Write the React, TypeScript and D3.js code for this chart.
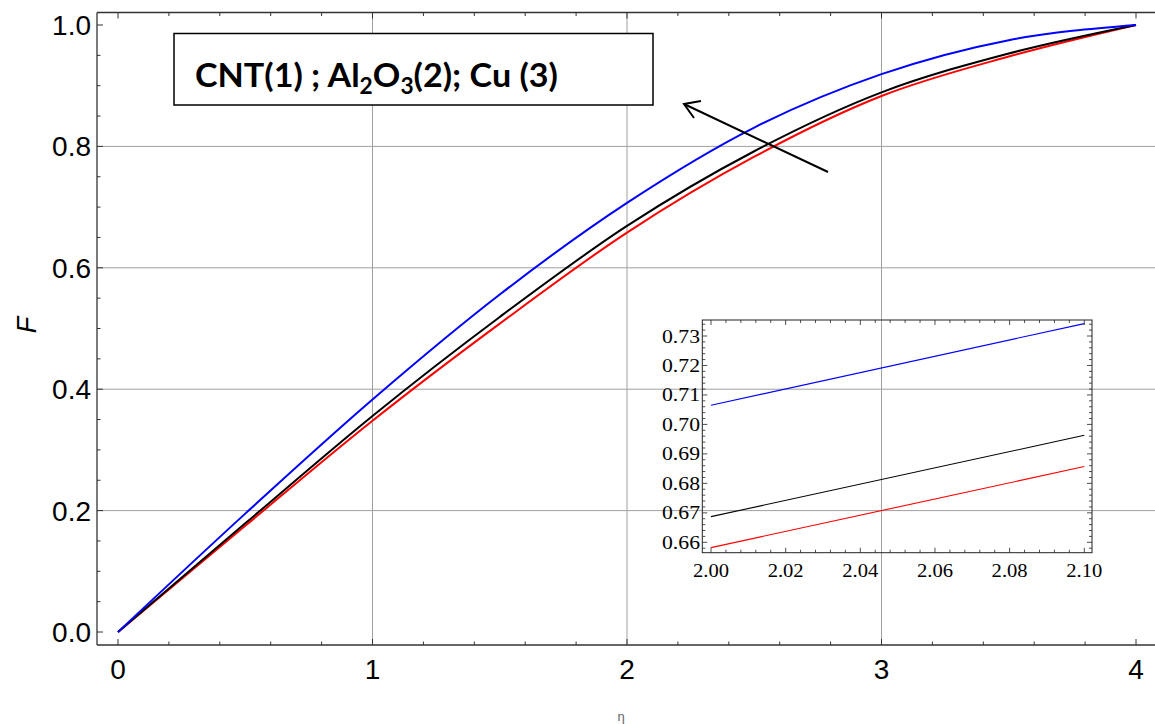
import React from 'react';
import * as d3 from 'd3';

// Main plot data
const ETA = [0, 0.5, 1, 1.5, 2, 2.5, 3, 3.5, 4];
const F_CNT = [0, 0.195, 0.383, 0.556, 0.707, 0.831, 0.919, 0.975, 1.0]; // blue
const F_AL2O3 = [0, 0.179, 0.356, 0.519, 0.669, 0.792, 0.889, 0.953, 1.0]; // black
const F_CU = [0, 0.175, 0.348, 0.508, 0.658, 0.783, 0.883, 0.948, 1.0]; // red

const X_TICKS = [0, 1, 2, 3, 4];
const Y_TICKS = [0, 0.2, 0.4, 0.6, 0.8, 1.0];

// Inset data
const INSET_ETA = [2.0, 2.1];
const INSET_CNT = [0.7065, 0.7342];
const INSET_AL2O3 = [0.6687, 0.6963];
const INSET_CU = [0.6582, 0.6857];
const INSET_X_TICKS = [2.0, 2.02, 2.04, 2.06, 2.08, 2.1];
const INSET_Y_TICKS = [0.66, 0.67, 0.68, 0.69, 0.70, 0.71, 0.72, 0.73];

const SERIES = [
  { vals: F_CU, inset: INSET_CU, color: '#ff0000' },
  { vals: F_AL2O3, inset: INSET_AL2O3, color: '#000000' },
  { vals: F_CNT, inset: INSET_CNT, color: '#0000ff' },
];

export default function App() {
  const W = 1155, H = 724;
  const x = d3.scaleLinear().domain([0, 4]).range([118, 1136]);
  const y = d3.scaleLinear().domain([0, 1]).range([632, 25]);
  const L = 97, T = 12.5, B = 645, R = 1170;

  const line = d3.line<number>()
    .x((_, i) => x(ETA[i]))
    .y((d) => y(d))
    .curve(d3.curveMonotoneX);

  const xMinor = d3.range(0, 4.001, 0.2).concat([-0.2]).filter(v => x(v) > L);
  const yMinor = d3.range(0, 1.0001, 0.05).filter(v => y(v) > T && y(v) < B);

  // inset
  const ix = d3.scaleLinear().domain([2.0, 2.1]).range([711, 1084.3]);
  const iy = d3.scaleLinear().domain([0.66, 0.73]).range([542.3, 336]);
  const iL = 702.3, iR = 1092, iT = 320, iB = 552.7;
  const iline = d3.line<number>().x((_, i) => ix(INSET_ETA[i])).y(d => iy(d));
  const ixMinor = d3.range(1.996, 2.1021, 0.004).filter(v => ix(v) > iL && ix(v) < iR);
  const iyMinor = d3.range(0.656, 0.7355, 0.002).filter(v => iy(v) > iT && iy(v) < iB);

  const grid = '#a0a0a0';
  const tickC = '#333';

  return (
    <svg width={W} height={H} style={{ position: 'absolute', left: 0, top: 0, background: '#fff' }}
      fontFamily="'Liberation Sans', Arial, sans-serif">
      <rect x={0} y={0} width={W} height={H} fill="#fff" />
      {/* grid */}
      {X_TICKS.filter(v => v > 0 && v < 4).map(v => (
        <line key={'gx' + v} x1={x(v)} x2={x(v)} y1={T} y2={B} stroke={grid} strokeWidth={1} />
      ))}
      {Y_TICKS.filter(v => v > 0 && v < 1).map(v => (
        <line key={'gy' + v} x1={L} x2={R} y1={y(v)} y2={y(v)} stroke={grid} strokeWidth={1} />
      ))}
      {/* frame */}
      <line x1={L} x2={L} y1={T} y2={B} stroke={tickC} strokeWidth={1.3} />
      <line x1={L} x2={R} y1={B} y2={B} stroke={tickC} strokeWidth={1.3} />
      <line x1={L} x2={R} y1={T} y2={T} stroke={tickC} strokeWidth={1.3} />
      {/* x ticks */}
      {xMinor.map(v => {
        const major = Math.abs(v - Math.round(v)) < 1e-6;
        const len = major ? 6 : 3.5;
        return (
          <g key={'xt' + v}>
            <line x1={x(v)} x2={x(v)} y1={B} y2={B - len} stroke={tickC} strokeWidth={1} />
            <line x1={x(v)} x2={x(v)} y1={T} y2={T + len} stroke={tickC} strokeWidth={1} />
          </g>
        );
      })}
      {yMinor.map(v => {
        const major = Math.abs(v * 5 - Math.round(v * 5)) < 1e-6;
        const len = major ? 6 : 3.5;
        return <line key={'yt' + v} x1={L} x2={L + len} y1={y(v)} y2={y(v)} stroke={tickC} strokeWidth={1} />;
      })}
      {X_TICKS.map(v => (
        <text key={'xl' + v} x={x(v)} y={679} textAnchor="middle" fontSize={28} fill="#000">{v}</text>
      ))}
      {Y_TICKS.map(v => (
        <text key={'yl' + v} x={91} y={y(v) + 10} textAnchor="end" fontSize={28} fill="#000">{v.toFixed(1)}</text>
      ))}
      <text x={0} y={0} transform="translate(36,325) rotate(-90)" textAnchor="middle" fontSize={27}
        fontStyle="italic" fill="#000">F</text>
      <text x={621} y={721} textAnchor="middle" fontSize={13} fill="#666">η</text>

      {/* curves */}
      {SERIES.map((s, i) => (
        <path key={'s' + i} d={line(s.vals) || ''} fill="none" stroke={s.color} strokeWidth={2} />
      ))}

      {/* legend box */}
      <rect x={174} y={33.5} width={479} height={71.5} fill="#fff" stroke="#000" strokeWidth={1.5} />
      <text x={195} y={87} fontFamily="Lato, 'Open Sans', sans-serif" fontWeight="bold" fontSize={33}
        textLength={363} lengthAdjust="spacingAndGlyphs" fill="#000">
        CNT(1) ; Al<tspan fontSize={22} dy={7}>2</tspan><tspan dy={-7}>O</tspan><tspan fontSize={22} dy={7}>3</tspan><tspan dy={-7}>(2); Cu (3)</tspan>
      </text>

      {/* arrow */}
      <line x1={828} y1={172} x2={684} y2={104} stroke="#000" strokeWidth={2} />
      <polyline points="701,101 684,104 694,118" fill="none" stroke="#000" strokeWidth={2} />

      {/* inset */}
      <g fontFamily="'Liberation Serif', 'Times New Roman', serif">
        <rect x={iL} y={iT} width={iR - iL} height={iB - iT} fill="none" stroke="#222" strokeWidth={1} />
        {ixMinor.map(v => {
          const major = Math.abs(v * 50 - Math.round(v * 50)) < 1e-6;
          const len = major ? 5 : 3;
          return (
            <g key={'ixt' + v}>
              <line x1={ix(v)} x2={ix(v)} y1={iB} y2={iB - len} stroke="#222" strokeWidth={0.8} />
              <line x1={ix(v)} x2={ix(v)} y1={iT} y2={iT + len} stroke="#222" strokeWidth={0.8} />
            </g>
          );
        })}
        {iyMinor.map(v => {
          const major = Math.abs(v * 100 - Math.round(v * 100)) < 1e-6;
          const len = major ? 5 : 3;
          return (
            <g key={'iyt' + v}>
              <line x1={iL} x2={iL + len} y1={iy(v)} y2={iy(v)} stroke="#222" strokeWidth={0.8} />
              <line x1={iR} x2={iR - len} y1={iy(v)} y2={iy(v)} stroke="#222" strokeWidth={0.8} />
            </g>
          );
        })}
        {INSET_X_TICKS.map(v => (
          <text key={'ixl' + v} x={ix(v)} y={577} textAnchor="middle" fontSize={19} fill="#000"
            textLength={36} lengthAdjust="spacingAndGlyphs">{v.toFixed(2)}</text>
        ))}
        {INSET_Y_TICKS.map(v => (
          <text key={'iyl' + v} x={700} y={iy(v) + 6.5} textAnchor="end" fontSize={19} fill="#000"
            textLength={38} lengthAdjust="spacingAndGlyphs">{v.toFixed(2)}</text>
        ))}
        {SERIES.map((s, i) => (
          <path key={'is' + i} d={iline(s.inset) || ''} fill="none" stroke={s.color} strokeWidth={1.1} />
        ))}
      </g>
    </svg>
  );
}
